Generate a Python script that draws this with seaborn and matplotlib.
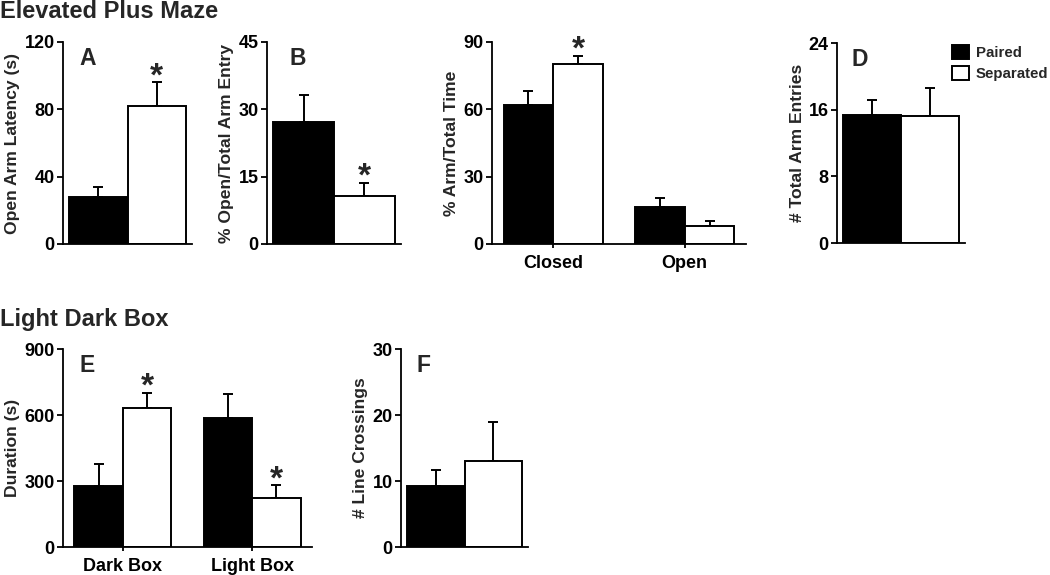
import matplotlib
matplotlib.use("Agg")
import matplotlib.pyplot as plt
from matplotlib.patches import Patch
import seaborn as sns
import pandas as pd

# ---------------- data ----------------
groups = ["Paired", "Separated"]

a_mean = [28.0, 82.0]
a_sem = [6.0, 14.0]

b_mean = [27.2, 10.8]
b_sem = [6.0, 2.9]

c_cats = ["Closed", "Open"]
c_paired = [61.9, 16.3]
c_paired_sem = [6.3, 4.2]
c_sep = [80.1, 7.9]
c_sep_sem = [3.8, 2.5]

d_mean = [15.4, 15.3]
d_sem = [1.8, 3.3]

e_cats = ["Dark Box", "Light Box"]
e_paired = [278.0, 587.0]
e_paired_sem = [99.0, 108.0]
e_sep = [633.0, 223.0]
e_sep_sem = [67.0, 57.0]

f_mean = [9.3, 13.1]
f_sem = [2.3, 5.8]

# ---------------- style ----------------
sns.set_style("ticks")
plt.rcParams["font.family"] = ["Liberation Sans", "DejaVu Sans"]
plt.rcParams["font.weight"] = "bold"
plt.rcParams["axes.labelweight"] = "bold"
plt.rcParams["axes.linewidth"] = 1.3
plt.rcParams["xtick.major.width"] = 1.3
plt.rcParams["ytick.major.width"] = 1.3
plt.rcParams["ytick.major.size"] = 4
plt.rcParams["xtick.major.size"] = 3
plt.rcParams["axes.edgecolor"] = "black"
plt.rcParams["xtick.color"] = "black"
plt.rcParams["ytick.color"] = "black"

palette = {"Paired": "black", "Separated": "white"}
W, H = 1050, 575
fig = plt.figure(figsize=(W / 100, H / 100), dpi=100)

TICK_FS = 13
LABEL_FS = 12.6


def add_ax(l, r, t, b):
    return fig.add_axes([l / W, 1 - b / H, (r - l) / W, (b - t) / H])


def make_df(cats, paired, sep):
    rows = []
    for c, v in zip(cats, paired):
        rows.append({"cond": c, "group": "Paired", "value": v})
    for c, v in zip(cats, sep):
        rows.append({"cond": c, "group": "Separated", "value": v})
    return pd.DataFrame(rows)


def panel(ax, cats, paired, sep, paired_sem, sep_sem, ymax, yticks, ylabel,
          letter=None, letter_x=0.12, stars=(), width=0.76, show_xt=False):
    df = make_df(cats, paired, sep)
    sns.barplot(data=df, x="cond", y="value", hue="group", hue_order=groups,
                palette=palette, saturation=1, edgecolor="black", linewidth=1.4,
                width=width, errorbar=None, legend=False, ax=ax, zorder=2)
    sems = {"Paired": paired_sem, "Separated": sep_sem}
    for cont, g in zip(ax.containers, groups):
        for i, bar in enumerate(cont):
            xc = bar.get_x() + bar.get_width() / 2
            h = bar.get_height()
            e = sems[g][i]
            ax.errorbar([xc], [h], yerr=[[0], [e]], fmt="none", ecolor="black",
                        elinewidth=1.4, capsize=3.5, capthick=1.4, zorder=1)
            if (g, i) in stars:
                ax.annotate("*", xy=(xc, h + e), xytext=(0, -2),
                            textcoords="offset points", ha="center",
                            va="baseline", fontsize=24, fontweight="bold")
    ax.set_ylim(0, ymax)
    ax.set_yticks(yticks)
    ax.set_ylabel(ylabel, fontsize=LABEL_FS, fontweight="bold", labelpad=3)
    ax.set_xlabel("")
    ax.tick_params(axis="y", labelsize=TICK_FS, pad=2)
    if show_xt:
        ax.tick_params(axis="x", labelsize=TICK_FS, pad=5)
        for t in ax.get_xticklabels():
            t.set_fontweight("bold")
    else:
        ax.set_xticks([])
    for t in ax.get_yticklabels():
        t.set_fontweight("bold")
    sns.despine(ax=ax)
    if letter:
        ax.text(letter_x, 0.975, letter, transform=ax.transAxes, ha="left",
                va="top", fontsize=16.5, fontweight="bold")


axA = add_ax(63, 192, 42, 244)
panel(axA, [""], [a_mean[0]], [a_mean[1]], [a_sem[0]], [a_sem[1]], 120,
      [0, 40, 80, 120], "Open Arm Latency (s)", "A", 0.13,
      stars={("Separated", 0)})

axB = add_ax(267, 401, 42, 244)
panel(axB, [""], [b_mean[0]], [b_mean[1]], [b_sem[0]], [b_sem[1]], 45,
      [0, 15, 30, 45], "% Open/Total Arm Entry", "B", 0.17,
      stars={("Separated", 0)}, width=0.73)

axC = add_ax(492, 746, 42, 244)
panel(axC, c_cats, c_paired, c_sep, c_paired_sem, c_sep_sem, 90,
      [0, 30, 60, 90], "% Arm/Total Time", None,
      stars={("Separated", 0)}, width=0.76, show_xt=True)

axD = add_ax(837, 965, 43, 243)
panel(axD, [""], [d_mean[0]], [d_mean[1]], [d_sem[0]], [d_sem[1]], 24,
      [0, 8, 16, 24], "# Total Arm Entries", "D", 0.115)

axE = add_ax(63, 312, 349, 547)
panel(axE, e_cats, e_paired, e_sep, e_paired_sem, e_sep_sem, 900,
      [0, 300, 600, 900], "Duration (s)", "E", 0.068,
      stars={("Separated", 0), ("Separated", 1)}, width=0.75, show_xt=True)

axF = add_ax(401, 528, 349, 547)
panel(axF, [""], [f_mean[0]], [f_mean[1]], [f_sem[0]], [f_sem[1]], 30,
      [0, 10, 20, 30], "# Line Crossings", "F", 0.12, width=0.77)

# legend
handles = [Patch(facecolor=palette[g], edgecolor="black", linewidth=1.4)
           for g in groups]
fig.legend(handles, groups, loc="upper left",
           bbox_to_anchor=(946 / W, 1 - 39 / H), frameon=False,
           handlelength=1.1, handleheight=1.1,
           labelspacing=0.35, handletextpad=0.5, borderaxespad=0,
           prop={"weight": "bold", "size": 10.8})

# section titles
fig.text(0 / W, 1 - 0 / H, "Elevated Plus Maze", ha="left", va="top",
         fontsize=17, fontweight="bold")
fig.text(0 / W, 1 - 308 / H, "Light Dark Box", ha="left", va="top",
         fontsize=17, fontweight="bold")

fig.savefig("out.png", dpi=100)
